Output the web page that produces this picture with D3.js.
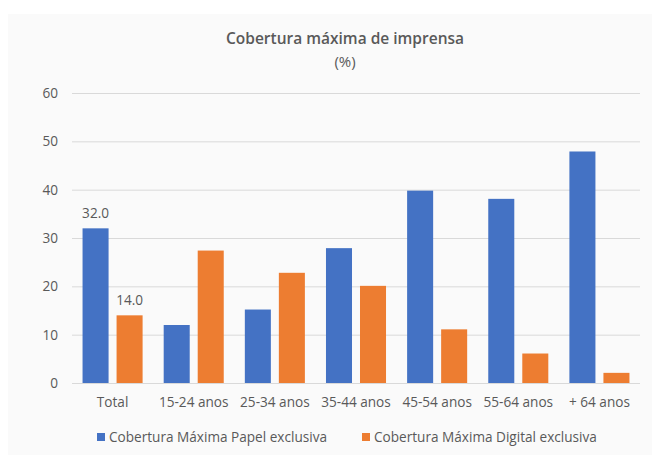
<!DOCTYPE html>
<html>
<head>
<meta charset="utf-8">
<script src="https://cdn.jsdelivr.net/npm/d3@7"></script>
<style>
  body { margin: 0; background: #fff; }
  text { font-family: "Open Sans", sans-serif; fill: #595959; }
</style>
</head>
<body>
<script>
const categories = ["Total", "15-24 anos", "25-34 anos", "35-44 anos", "45-54 anos", "55-64 anos", "+ 64 anos"];
const seriesNames = ["Cobertura Máxima Papel exclusiva", "Cobertura Máxima Digital exclusiva"];
const papel = [32.0, 12.0, 15.2, 27.9, 39.8, 38.1, 47.9];
const digital = [14.0, 27.4, 22.8, 20.1, 11.1, 6.1, 2.1];
const yTicks = [0, 10, 20, 30, 40, 50, 60];
const colors = ["#4472c4", "#ed7d31"];

const width = 660, height = 466;
const margin = { top: 93, right: 20, bottom: 83, left: 72 };
const fs = 13.6;

const svg = d3.select("body").append("svg")
  .attr("width", width)
  .attr("height", height);

// chart background
svg.append("rect")
  .attr("x", 8).attr("y", 14)
  .attr("width", 644).attr("height", 441)
  .attr("fill", "#fafafa");

const x = d3.scaleBand()
  .domain(categories)
  .range([margin.left, width - margin.right]);

const x1 = d3.scaleBand()
  .domain([0, 1])
  .range([0, x.bandwidth()])
  .paddingInner(0.235)
  .paddingOuter(0.31);

const y = d3.scaleLinear()
  .domain([0, 60])
  .range([height - margin.bottom, margin.top]);

// gridlines + y labels
const yAxis = svg.append("g")
  .attr("transform", "translate(" + margin.left + ",0)")
  .call(d3.axisLeft(y).tickValues(yTicks).tickSize(-(width - margin.left - margin.right)).tickPadding(14));
yAxis.select(".domain").remove();
yAxis.selectAll(".tick line").attr("stroke", "#d9d9d9");
yAxis.selectAll(".tick text").attr("font-size", fs).style("fill", "#595959");

// x labels
const xAxis = svg.append("g")
  .attr("transform", "translate(0," + y(0) + ")")
  .call(d3.axisBottom(x).tickSize(0).tickPadding(14));
xAxis.select(".domain").remove();
xAxis.selectAll(".tick text").attr("font-size", fs).style("fill", "#595959");

const series = [papel, digital];
const groups = svg.selectAll("g.series").data(series)
  .enter().append("g")
  .attr("class", "series")
  .attr("fill", function(d, i) { return colors[i]; });

groups.each(function(vals, si) {
  d3.select(this).selectAll("rect").data(vals)
    .enter().append("rect")
    .attr("x", function(d, i) { return x(categories[i]) + x1(si); })
    .attr("y", function(d) { return y(d); })
    .attr("width", x1.bandwidth())
    .attr("height", function(d) { return y(0) - y(d); });
});

// data labels on Total only
svg.selectAll("text.dlabel").data([0, 1])
  .enter().append("text")
  .attr("class", "dlabel")
  .attr("x", function(si) { return x(categories[0]) + x1(si) + x1.bandwidth() / 2; })
  .attr("y", function(si) { return y(series[si][0]) - 10; })
  .attr("text-anchor", "middle")
  .attr("font-size", fs)
  .text(function(si) { return series[si][0].toFixed(1); });

// title
svg.append("text")
  .attr("x", 345).attr("y", 44)
  .attr("text-anchor", "middle")
  .attr("font-size", 15.5)
  .attr("font-weight", 600)
  .text("Cobertura máxima de imprensa");
svg.append("text")
  .attr("x", 345).attr("y", 67)
  .attr("text-anchor", "middle")
  .attr("font-size", 15)
  .text("(%)");

// legend
const legend = svg.selectAll("g.legend").data(seriesNames)
  .enter().append("g")
  .attr("class", "legend")
  .attr("transform", function(d, i) { return "translate(" + [97, 362][i] + ",437)"; });
legend.append("rect")
  .attr("x", 0).attr("y", -4)
  .attr("width", 8).attr("height", 8)
  .attr("fill", function(d, i) { return colors[i]; });
legend.append("text")
  .attr("x", 12).attr("y", 0)
  .attr("dy", "0.35em")
  .attr("font-size", fs)
  .text(function(d) { return d; });
</script>
</body>
</html>
